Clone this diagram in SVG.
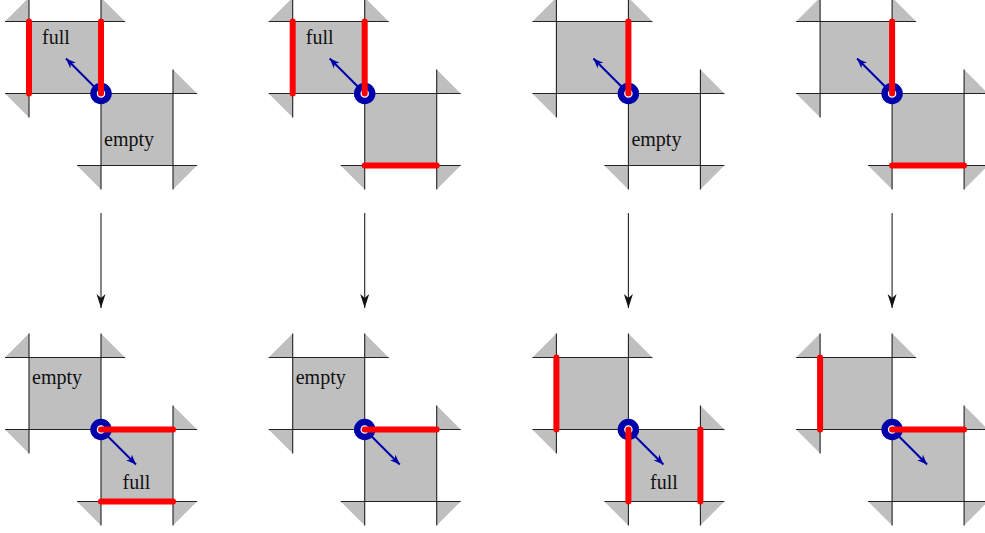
<svg xmlns="http://www.w3.org/2000/svg" width="985" height="533" viewBox="0 0 985 533">
<style>
.bg{fill:#ffffff}
.sq{fill:#bfbfbf;stroke:none}
.ln{stroke:#222;stroke-width:1.1;fill:none}
.red{stroke:#ff0000;stroke-width:6;stroke-linecap:round;fill:none}
.ring{fill:#ffffff;stroke:#0000aa;stroke-width:6.5}
.barrow{stroke:#0000aa;stroke-width:2;fill:none}
.conn{stroke:#222;stroke-width:1.1;fill:none}
.lbl{font-family:"Liberation Serif","DejaVu Serif",serif;font-size:20px;fill:#111;text-anchor:middle}
</style>
<defs>
<marker id="bhead" markerUnits="userSpaceOnUse" markerWidth="12" markerHeight="10" viewBox="-10 -5 12 10" refX="0" refY="0" orient="auto">
<path d="M0,0 L-10,-4 L-7,0 L-10,4 Z" fill="#0000aa"/>
</marker>
<marker id="khead" markerUnits="userSpaceOnUse" markerWidth="16" markerHeight="12" viewBox="-14 -6 16 12" refX="0" refY="0" orient="auto">
<path d="M0,0 L-14,-4.5 L-10,0 L-14,4.5 Z" fill="#111"/>
</marker>
<g id="tiles">
<rect class="sq" x="29" y="21.5" width="72" height="72"/>
<rect class="sq" x="101" y="93.5" width="72" height="72"/>
<polygon class="sq" points="5,21.5 29,-2.5 29,21.5"/>
<polygon class="sq" points="101,-2.5 125,21.5 101,21.5"/>
<polygon class="sq" points="5,93.5 29,93.5 29,117.5"/>
<polygon class="sq" points="173,69.5 197,93.5 173,93.5"/>
<polygon class="sq" points="77,165.5 101,165.5 101,189.5"/>
<polygon class="sq" points="173,165.5 197,165.5 173,189.5"/>
<path class="ln" d="M5,21.5H125 M5,93.5H197 M77,165.5H197 M29,-2.5V117.5 M101,-2.5V189.5 M173,69.5V189.5"/>
</g>
<g id="up">
<line class="barrow" x1="101" y1="93.5" x2="66" y2="58.5" marker-end="url(#bhead)"/>
<circle class="ring" cx="101" cy="93.5" r="7.5"/>
</g>
<g id="down">
<line class="barrow" x1="101" y1="93.5" x2="136" y2="128.5" marker-end="url(#bhead)"/>
<circle class="ring" cx="101" cy="93.5" r="7.5"/>
</g>
</defs>
<rect class="bg" x="0" y="0" width="985" height="533"/>

<g id="panel-1-top">
<use href="#tiles"/>
<use href="#up"/>
<path class="red" d="M29,21.5V93.5 M101,21.5V93.5"/>
<text class="lbl" x="56" y="44">full</text>
<text class="lbl" x="129" y="146">empty</text>
</g>
<g id="panel-2-top" transform="translate(263.7,0)">
<use href="#tiles"/>
<use href="#up"/>
<path class="red" d="M29,21.5V93.5 M101,21.5V93.5 M101,165.5H173"/>
<text class="lbl" x="56" y="44">full</text>
</g>
<g id="panel-3-top" transform="translate(527.4,0)">
<use href="#tiles"/>
<use href="#up"/>
<path class="red" d="M101,21.5V93.5"/>
<text class="lbl" x="129" y="146">empty</text>
</g>
<g id="panel-4-top" transform="translate(791.1,0)">
<use href="#tiles"/>
<use href="#up"/>
<path class="red" d="M101,21.5V93.5 M101,165.5H173"/>
</g>

<g id="panel-1-bottom" transform="translate(0,336)">
<use href="#tiles"/>
<use href="#down"/>
<path class="red" d="M101,93.5H173 M101,165.5H173"/>
<text class="lbl" x="57" y="47.5">empty</text>
<text class="lbl" x="136.5" y="152.5">full</text>
</g>
<g id="panel-2-bottom" transform="translate(263.7,336)">
<use href="#tiles"/>
<use href="#down"/>
<path class="red" d="M101,93.5H173"/>
<text class="lbl" x="57" y="47.5">empty</text>
</g>
<g id="panel-3-bottom" transform="translate(527.4,336)">
<use href="#tiles"/>
<use href="#down"/>
<path class="red" d="M29,21.5V93.5 M101,93.5V165.5 M173,93.5V165.5"/>
<text class="lbl" x="136.5" y="152.5">full</text>
</g>
<g id="panel-4-bottom" transform="translate(791.1,336)">
<use href="#tiles"/>
<use href="#down"/>
<path class="red" d="M29,21.5V93.5 M101,93.5H173"/>
</g>

<g id="connectors">
<line class="conn" x1="101" y1="213" x2="101" y2="308" marker-end="url(#khead)"/>
<line class="conn" x1="364.7" y1="213" x2="364.7" y2="308" marker-end="url(#khead)"/>
<line class="conn" x1="628.4" y1="213" x2="628.4" y2="308" marker-end="url(#khead)"/>
<line class="conn" x1="892.1" y1="213" x2="892.1" y2="308" marker-end="url(#khead)"/>
</g>
</svg>
